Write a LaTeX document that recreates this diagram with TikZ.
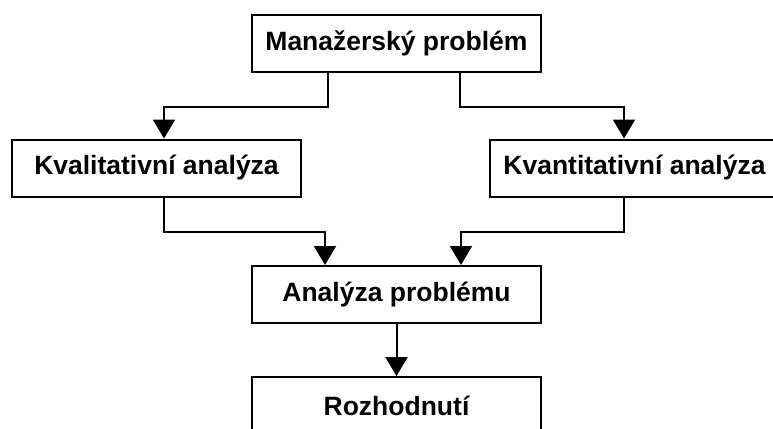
\documentclass[tikz,border=0pt]{standalone}
\usepackage{fontspec}
\setmainfont{Liberation Sans}
\usetikzlibrary{arrows.meta}
\tikzset{
  box/.style={draw=black, line width=2pt, fill=white, minimum width=289pt,
    minimum height=57pt, inner sep=0pt,
    font=\fontsize{26.5pt}{30pt}\selectfont\bfseries},
  arr/.style={line width=2pt, -{Triangle[length=19pt,width=22pt]}},
  link/.style={line width=2pt}
}
\begin{document}
\begin{tikzpicture}[x=1pt,y=-1pt]
  \useasboundingbox (0,0) rectangle (773,428);
  \clip (0,0) rectangle (773,428);

  % boxes
  \node[box] (man)  at (396.5,43.5)  {Manažerský problém};
  \node[box] (kval) at (156.5,168)   {Kvalitativní analýza};
  \node[box] (kvan) at (634.5,168)   {Kvantitativní analýza};
  \node[box] (anal) at (396.5,294.5) {Analýza problému};
  \node[box] (roz)  at (396.5,405.5) {Rozhodnutí};

  % bend points of the elbow connectors
  \coordinate (b1) at (328,107);
  \coordinate (b2) at (460,107);
  \coordinate (b3) at (164,232);
  \coordinate (b4) at (624,232);

  % connectors
  \draw[arr] (b1 |- man.south) -- (b1) -| ([xshift=7.5pt]kval.north);
  \draw[arr] (b2 |- man.south) -- (b2) -| ([xshift=-10.5pt]kvan.north);
  \draw[arr] (b3 |- kval.south) -- (b3) -| ([xshift=-71.5pt]anal.north);
  \draw[arr] (b4 |- kvan.south) -- (b4) -| ([xshift=64.5pt]anal.north);
  \draw[arr] (anal.south) -- (roz.north);
\end{tikzpicture}
\end{document}
